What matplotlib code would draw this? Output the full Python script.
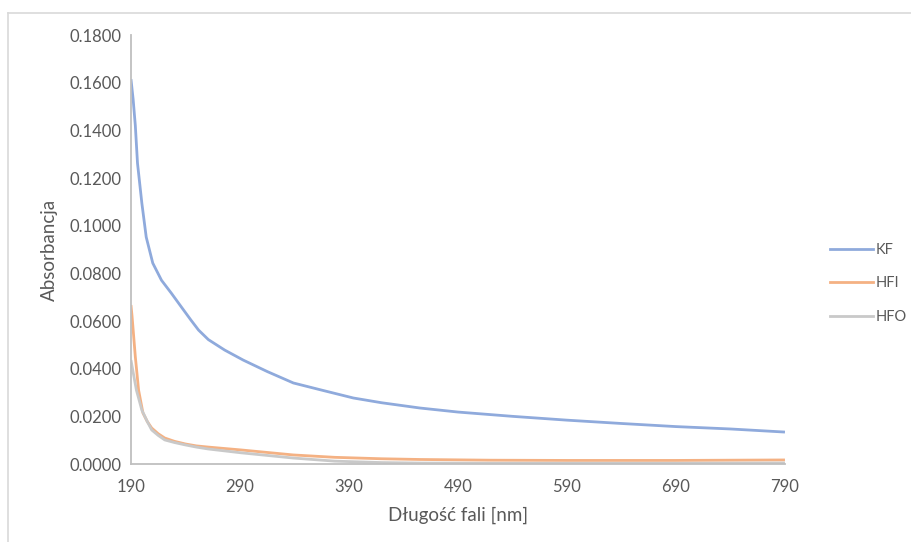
import matplotlib.pyplot as plt
from matplotlib.lines import Line2D

# wavelengths [nm] and absorbance
kf_nm = [190, 192, 194, 196, 200, 204, 210, 218, 227, 237, 245, 252, 261, 276, 293, 315,
         339, 365, 394, 420, 455, 490, 540, 590, 640, 690, 740, 790]
kf_abs = [0.1615, 0.1530, 0.1420, 0.1262, 0.1094, 0.0952, 0.0843, 0.0771, 0.0717, 0.0654,
          0.0604, 0.0562, 0.0522, 0.0478, 0.0436, 0.0388, 0.0340, 0.0310, 0.0277, 0.0257,
          0.0235, 0.0218, 0.0200, 0.0184, 0.0170, 0.0157, 0.0147, 0.0134]

hfi_nm = [190, 191, 194, 197, 201, 205, 209, 215, 221, 230, 240, 250, 261, 291, 339, 377,
          420, 455, 520, 590, 690, 790]
hfi_abs = [0.0667, 0.0620, 0.0450, 0.0310, 0.0214, 0.0178, 0.0151, 0.0127, 0.0109, 0.0095,
           0.0084, 0.0076, 0.0071, 0.0059, 0.0038, 0.0028, 0.0022, 0.0019, 0.0016, 0.0015,
           0.0015, 0.0017]

hfo_nm = [190, 191, 195, 200, 205, 209, 215, 221, 230, 240, 250, 261, 291, 339, 377,
          420, 455, 520, 590, 690, 790]
hfo_abs = [0.0436, 0.0410, 0.0310, 0.0226, 0.0178, 0.0143, 0.0120, 0.0101, 0.0090, 0.0080,
           0.0071, 0.0063, 0.0047, 0.0025, 0.0012, 0.0006, 0.0004, 0.0003, 0.0003,
           0.0003, 0.0004]

series_names = ['KF', 'HFI', 'HFO']
x_ticks = [190, 290, 390, 490, 590, 690, 790]
y_ticks = [0.0, 0.02, 0.04, 0.06, 0.08, 0.10, 0.12, 0.14, 0.16, 0.18]

colors = ['#8FAADC', '#F4B183', '#C9C9C9']
txt = '#595959'
plt.rcParams['font.family'] = ['Lato', 'DejaVu Sans']

fig = plt.figure(figsize=(9.12, 5.42), dpi=100)
ax = fig.add_axes([0.1436, 0.1439, 0.8607 - 0.1436, 0.9354 - 0.1439])

for xs, ys, c in zip([kf_nm, hfi_nm, hfo_nm], [kf_abs, hfi_abs, hfo_abs], colors):
    ax.plot(xs, ys, color=c, lw=2.0, solid_capstyle='butt', solid_joinstyle='round')

ax.set_xlim(190, 790)
ax.set_ylim(0, 0.18)
ax.set_xticks(x_ticks)
ax.set_yticks(y_ticks)
ax.set_yticklabels(['{:.4f}'.format(v) for v in y_ticks])
ax.tick_params(length=0, labelsize=12, colors=txt, pad=7)
ax.tick_params(axis='x', pad=11)
for side in ['top', 'right']:
    ax.spines[side].set_visible(False)
for side in ['left', 'bottom']:
    ax.spines[side].set_color('#BFBFBF')
    ax.spines[side].set_linewidth(1.3)

ax.set_xlabel('Długość fali [nm]', fontsize=13.5, color=txt, labelpad=8)
ax.set_ylabel('Absorbancja', fontsize=13.5, color=txt, labelpad=8)

handles = [Line2D([], [], color=c, lw=2.0) for c in colors]
fig.legend(handles, series_names, loc='center left', bbox_to_anchor=(0.905, 0.477),
           frameon=False, fontsize=10.5, labelcolor=txt, handlelength=3.0,
           handletextpad=0.15, labelspacing=1.35, borderaxespad=0, borderpad=0.3)

# outer chart border (left and top edges visible in the screenshot)
fig.add_artist(Line2D([8 / 912, 8 / 912], [0, 1 - 13 / 542], color='#D9D9D9', lw=1.2))
fig.add_artist(Line2D([8 / 912, 1], [1 - 13 / 542, 1 - 13 / 542], color='#D9D9D9', lw=1.2))

fig.savefig('out.png', dpi=100)
